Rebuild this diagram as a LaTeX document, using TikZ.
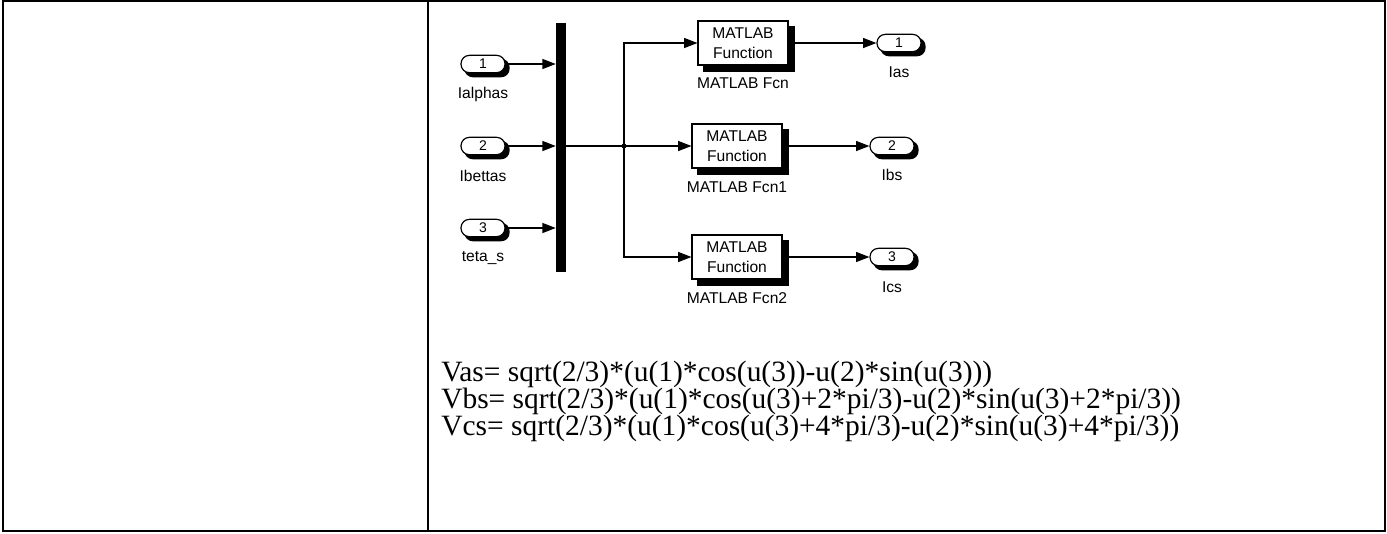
\documentclass[tikz,border=0pt]{standalone}
\usepackage{fontspec}
\setmainfont{Liberation Serif}
\setsansfont{Liberation Sans}
\usetikzlibrary{
  arrows.meta,
  positioning,
  backgrounds,
  calc
}

\begin{document}
\begin{tikzpicture}[
  x=0.75pt, y=-0.75pt,
  font=\sffamily\fontsize{11.7}{15}\selectfont,
  port/.style={
    rectangle, rounded corners=6.3pt, draw=black, fill=white, line width=0.9pt,
    minimum width=33pt, minimum height=13pt, inner sep=0pt,
    font=\sffamily\fontsize{10.5}{12}\selectfont
  },
  fcnbox/.style={
    rectangle, draw=black, fill=white, line width=0.8pt,
    minimum width=67.5pt, minimum height=33pt, inner sep=0pt, align=center
  },
  busbar/.style={
    rectangle, fill=black, minimum width=7.5pt, minimum height=187pt, inner sep=0pt
  },
  tag/.style={font=\sffamily\fontsize{11.7}{13}\selectfont},
  eqline/.style={anchor=base west, inner sep=0pt,
    font=\rmfamily\fontsize{22.1}{20}\selectfont},
  arrow/.style={-{Triangle[length=10pt,width=7.5pt]}, line width=0.9pt},
]
\useasboundingbox (0,0) rectangle (1387,533);

% Table frame
\draw[line width=1.1pt] (3,1) rectangle (1385,531);
\draw[line width=1.1pt] (428,1) -- (428,531);

% Inports
\node[port] (in1) at (483,64)  {1};
\node[port] (in2) at (483,146) {2};
\node[port] (in3) at (483,228) {3};
\node[tag] (lin1) at (483,94)  {Ialphas};
\node[tag] (lin2) at (483,176) {Ibettas};
\node[tag] (lin3) at (483,258) {teta\_s};

% Mux bar
\node[busbar] (bus) at (561,147.5) {};

% MATLAB Function blocks
\node[fcnbox] (fcn1) at (743,43)  {MATLAB\\Function};
\node[fcnbox] (fcn2) at (737,146) {MATLAB\\Function};
\node[fcnbox] (fcn3) at (737,257) {MATLAB\\Function};
\node[tag] (lfcn1) at (743,83)  {MATLAB Fcn};
\node[tag] (lfcn2) at (737,187) {MATLAB Fcn1};
\node[tag] (lfcn3) at (737,298) {MATLAB Fcn2};

% Outports
\node[port] (out1) at (899,43)  {1};
\node[port] (out2) at (892,146) {2};
\node[port] (out3) at (892,257) {3};
\node[tag] (lout1) at (899,72)  {Ias};
\node[tag] (lout2) at (892,175) {Ibs};
\node[tag] (lout3) at (892,287) {Ics};

% Block shadows
\begin{scope}[on background layer]
  \foreach \p in {in1,in2,in3,out1,out2,out3}
    \fill[rounded corners=6.3pt] ($(\p.south west)+(3pt,-3pt)$)
      rectangle ($(\p.north east)+(3pt,-3pt)$);
  \foreach \f in {fcn1,fcn2,fcn3}
    \fill ($(\f.south west)+(4.5pt,-4.5pt)$)
      rectangle ($(\f.north east)+(4.5pt,-4.5pt)$);
\end{scope}

% Signals into the bar
\draw[arrow] (in1.east) -- (in1 -| bus.west);
\draw[arrow] (in2.east) -- (in2 -| bus.west);
\draw[arrow] (in3.east) -- (in3 -| bus.west);

% Bar output and branch
\coordinate (split) at (624,146);
\draw[line width=0.9pt] (bus.east |- split) -- (split);
\fill (split) +(-1.8,-1.8) rectangle +(1.8,1.8);
\draw[arrow] (split) -- (fcn2.west);
\draw[arrow] (split) |- (fcn1.west);
\draw[arrow] (split) |- (fcn3.west);

% Block outputs
\draw[arrow] (fcn1.east) -- (out1.west);
\draw[arrow] (fcn2.east) -- (out2.west);
\draw[arrow] (fcn3.east) -- (out3.west);

% Equations
\node[eqline] (eq1) at (441,381) {Vas= sqrt(2/3)*(u(1)*cos(u(3))-u(2)*sin(u(3)))};
\node[eqline] (eq2) at (441,408) {Vbs= sqrt(2/3)*(u(1)*cos(u(3)+2*pi/3)-u(2)*sin(u(3)+2*pi/3))};
\node[eqline] (eq3) at (441,435) {Vcs= sqrt(2/3)*(u(1)*cos(u(3)+4*pi/3)-u(2)*sin(u(3)+4*pi/3))};

\end{tikzpicture}
\end{document}
